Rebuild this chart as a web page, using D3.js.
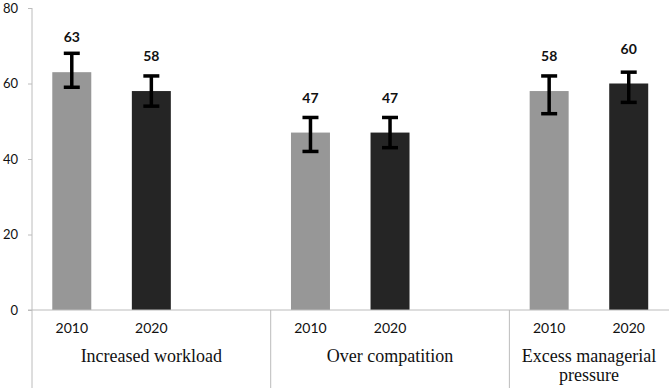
<!DOCTYPE html>
<html>
<head>
<meta charset="utf-8">
<script src="https://cdn.jsdelivr.net/npm/d3@7"></script>
<style>
  body { margin: 0; background: #fff; }
  svg text { fill: #111; }
  .num { font-family: Lato, "Open Sans", sans-serif; }
  .cat { font-family: "Liberation Serif", "DejaVu Serif", serif; }
</style>
</head>
<body>
<div id="chart"></div>
<script>
// chart data
var categories = ['Increased workload', 'Over compatition', 'Excess managerial pressure'];
var years = ['2010', '2020'];
var values2010 = [63, 47, 58];
var values2020 = [58, 47, 60];
var errLow2010 = [59, 42, 52];
var errHigh2010 = [68, 51, 62];
var errLow2020 = [54, 43, 55];
var errHigh2020 = [62, 51, 63];
var yTicks = [0, 20, 40, 60, 80];

var width = 669, height = 388;
var plotLeft = 32, plotRight = 668.5, plotTop = 8, plotBottom = 310;
var colors = { '2010': '#979797', '2020': '#252525' };

var svg = d3.select('#chart').append('svg')
    .attr('width', width)
    .attr('height', height);

// every category gets a slot per year, plus an empty slot except the last one
var slots = [];
var groups = [];
categories.forEach(function(c, i) {
    var g = { name: c, slots: [] };
    years.forEach(function(y) { g.slots.push(c + '|' + y); });
    if (i < categories.length - 1) g.slots.push(c + '|');
    slots = slots.concat(g.slots);
    groups.push(g);
});

var x = d3.scaleBand()
    .domain(slots)
    .range([plotLeft, plotRight])
    .paddingInner(0.51)
    .paddingOuter(0.255);

var y = d3.scaleLinear()
    .domain([0, 80])
    .range([plotBottom, plotTop]);

// build bar rows
var bars = [];
categories.forEach(function(c, i) {
    bars.push({ key: c + '|2010', year: '2010', v: values2010[i], lo: errLow2010[i], hi: errHigh2010[i] });
    bars.push({ key: c + '|2020', year: '2020', v: values2020[i], lo: errLow2020[i], hi: errHigh2020[i] });
});

// y axis
var yAxis = svg.append('g')
    .attr('transform', 'translate(' + plotLeft + ',0)')
    .call(d3.axisLeft(y).tickValues(yTicks).tickSize(4).tickPadding(10));
yAxis.selectAll('line').attr('stroke', '#bcbcbc');
yAxis.selectAll('text')
    .attr('class', 'num')
    .style('font-size', '13px')
    .attr('fill', '#111');
yAxis.select('.domain').remove();
svg.append('line')
    .attr('x1', plotLeft).attr('x2', plotLeft)
    .attr('y1', y(80)).attr('y2', height)
    .attr('stroke', '#bcbcbc');

// bars
svg.selectAll('rect.bar')
    .data(bars)
    .enter()
    .append('rect')
    .attr('class', 'bar')
    .attr('x', function(d) { return x(d.key); })
    .attr('width', x.bandwidth())
    .attr('y', function(d) { return y(d.v); })
    .attr('height', function(d) { return y(0) - y(d.v); })
    .attr('fill', function(d) { return colors[d.year]; });

// x axis line
svg.append('line')
    .attr('x1', plotLeft - 4).attr('x2', width)
    .attr('y1', y(0)).attr('y2', y(0))
    .attr('stroke', '#bcbcbc');

// error bars
var err = svg.append('g').selectAll('g')
    .data(bars)
    .enter()
    .append('g')
    .attr('stroke', '#000')
    .attr('stroke-width', 3.5);
err.append('line')
    .attr('x1', function(d) { return x(d.key) + x.bandwidth() / 2; })
    .attr('x2', function(d) { return x(d.key) + x.bandwidth() / 2; })
    .attr('y1', function(d) { return y(d.lo); })
    .attr('y2', function(d) { return y(d.hi); });
['lo', 'hi'].forEach(function(k) {
    err.append('line')
        .attr('x1', function(d) { return x(d.key) + x.bandwidth() / 2 - 8; })
        .attr('x2', function(d) { return x(d.key) + x.bandwidth() / 2 + 8; })
        .attr('y1', function(d) { return y(d[k]); })
        .attr('y2', function(d) { return y(d[k]); });
});

// value labels
svg.selectAll('text.val')
    .data(bars)
    .enter()
    .append('text')
    .attr('class', 'val num')
    .attr('x', function(d) { return x(d.key) + x.bandwidth() / 2; })
    .attr('y', function(d) { return y(d.v) - 30; })
    .attr('text-anchor', 'middle')
    .style('font-size', '14px')
    .style('font-weight', 'bold')
    .text(function(d) { return d.v; });

// year labels
svg.selectAll('text.year')
    .data(bars)
    .enter()
    .append('text')
    .attr('class', 'year num')
    .attr('x', function(d) { return x(d.key) + x.bandwidth() / 2; })
    .attr('y', 333)
    .attr('text-anchor', 'middle')
    .style('font-size', '14px')
    .text(function(d) { return d.year; });

// group dividers and category labels
var step = x.step();
groups.forEach(function(g, i) {
    var x0 = plotLeft + step * slots.indexOf(g.slots[0]);
    var x1 = x0 + step * g.slots.length;
    if (i > 0) {
        svg.append('line')
            .attr('x1', x0).attr('x2', x0)
            .attr('y1', y(0)).attr('y2', height)
            .attr('stroke', '#bcbcbc');
    }
    var t = svg.append('text')
        .attr('class', 'cat')
        .attr('x', (x0 + x1) / 2)
        .attr('y', 362)
        .attr('text-anchor', 'middle')
        .style('font-size', '18px');
    wrap(t, g.name, x1 - x0 - 10);
});

function wrap(t, str, w) {
    var words = str.split(' ');
    var line = [];
    var tspan = t.append('tspan').attr('x', t.attr('x')).attr('dy', 0);
    words.forEach(function(word) {
        line.push(word);
        tspan.text(line.join(' '));
        if (tspan.node().getComputedTextLength() > w && line.length > 1) {
            line.pop();
            tspan.text(line.join(' '));
            line = [word];
            tspan = t.append('tspan').attr('x', t.attr('x')).attr('dy', '1.05em').text(word);
        }
    });
}
</script>
</body>
</html>
